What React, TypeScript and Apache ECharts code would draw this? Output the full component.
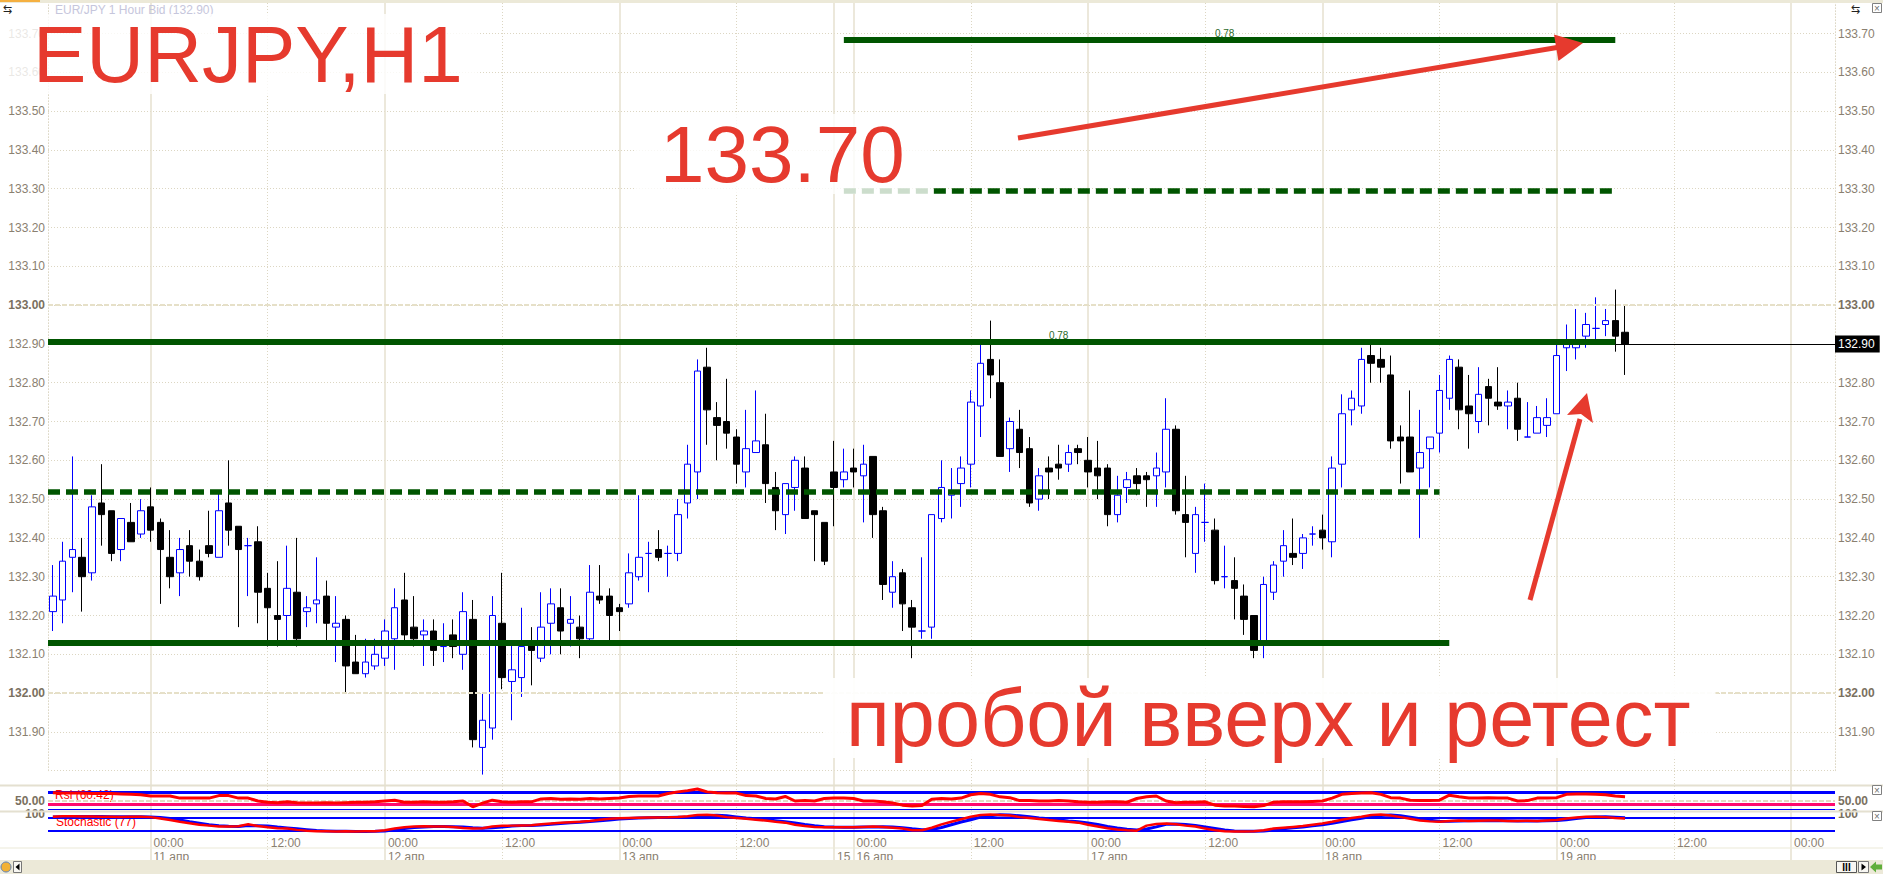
import React, { useEffect, useRef } from "react";
import * as echarts from "echarts";

const FONT = "'Liberation Sans', Arial, sans-serif";
const RED = "#e63a2e";
const GREEN = "#005500";
const AXIS_TXT = "#8a8070";
const BEIGE = "#ece9d8";

// hourly slots: 10 апр 14:00 → 13 апр 21:00, then 15 апр 22:00 → 20 апр 04:00
const sessions = [
  { day: 10, startHour: 14, count: 80 },
  { day: 15, startHour: 22, count: 103 },
];
const lastDataDay = 19;

const opens = [
  132.21,132.24,132.35,132.35,132.31,132.49,132.47,132.37,132.44,132.41,
  132.48,132.44,132.35,132.31,132.38,132.34,132.38,132.35,132.49,132.43,
  132.38,132.39,132.27,132.20,132.20,132.26,132.21,132.23,132.25,132.17,
  132.19,132.08,132.05,132.07,132.09,132.14,132.24,132.17,132.15,132.16,
  132.12,132.15,132.10,132.19,131.86,131.91,132.18,132.03,132.04,132.13,
  132.09,132.18,132.22,132.18,132.17,132.14,132.25,132.25,132.22,132.23,
  132.30,132.36,132.37,132.36,132.36,132.49,132.57,132.84,132.71,132.70,
  132.66,132.57,132.62,132.64,132.53,132.46,132.53,132.58,132.47,132.44,
  132.57,132.55,132.58,132.56,132.61,132.47,132.26,132.31,132.22,132.16,
  132.17,132.45,132.51,132.54,132.59,132.74,132.86,132.80,132.63,132.68,
  132.63,132.50,132.58,132.59,132.59,132.63,132.60,132.58,132.58,132.46,
  132.53,132.56,132.56,132.56,132.57,132.68,132.46,132.36,132.44,132.42,
  132.30,132.29,132.25,132.20,132.13,132.26,132.34,132.36,132.36,132.41,
  132.42,132.39,132.59,132.73,132.74,132.87,132.86,132.82,132.66,132.66,
  132.58,132.63,132.67,132.76,132.84,132.74,132.70,132.79,132.75,132.74,
  132.76,132.66,132.67,132.69,132.72,132.89,132.89,132.92,132.94,132.95,
  132.96,132.93,
];
const closes = [
  132.25,132.34,132.37,132.30,132.48,132.46,132.36,132.45,132.39,132.47,
  132.42,132.37,132.30,132.37,132.34,132.30,132.36,132.47,132.42,132.37,
  132.38,132.26,132.22,132.19,132.27,132.14,132.22,132.24,132.18,132.18,
  132.07,132.05,132.08,132.10,132.16,132.22,132.15,132.14,132.16,132.11,
  132.12,132.12,132.21,131.88,131.93,132.20,132.04,132.06,132.12,132.11,
  132.17,132.23,132.16,132.19,132.14,132.26,132.24,132.20,132.21,132.31,
  132.35,132.36,132.35,132.36,132.46,132.59,132.83,132.73,132.69,132.67,
  132.59,132.63,132.65,132.54,132.47,132.54,132.60,132.45,132.46,132.34,
  132.53,132.57,132.57,132.59,132.46,132.28,132.30,132.23,132.17,132.16,
  132.46,132.53,132.52,132.58,132.75,132.85,132.82,132.61,132.70,132.62,
  132.49,132.56,132.57,132.58,132.62,132.62,132.57,132.56,132.46,132.51,
  132.55,132.54,132.55,132.58,132.68,132.47,132.44,132.46,132.44,132.29,
  132.30,132.27,132.19,132.11,132.28,132.33,132.38,132.35,132.40,132.41,
  132.40,132.58,132.72,132.76,132.86,132.85,132.84,132.65,132.65,132.57,
  132.62,132.66,132.78,132.86,132.73,132.72,132.77,132.76,132.74,132.75,
  132.68,132.66,132.71,132.71,132.87,132.90,132.90,132.95,132.94,132.96,
  132.92,132.90,
];
const lows = [
  132.16,132.18,132.26,132.21,132.29,132.38,132.34,132.34,132.39,132.40,
  132.39,132.23,132.27,132.25,132.30,132.29,132.35,132.35,132.38,132.17,
  132.25,132.18,132.12,132.12,132.13,132.12,132.17,132.18,132.13,132.08,
  132.00,132.05,132.04,132.06,132.07,132.06,132.13,132.12,132.07,132.07,
  132.08,132.09,132.06,131.86,131.79,131.88,132.01,131.93,131.99,132.02,
  132.08,132.10,132.10,132.12,132.09,132.13,132.23,132.13,132.16,132.22,
  132.29,132.26,132.34,132.30,132.34,132.45,132.50,132.64,132.60,132.63,
  132.54,132.53,132.62,132.49,132.42,132.41,132.47,132.45,132.34,132.33,
  132.43,132.53,132.53,132.44,132.40,132.24,132.22,132.16,132.09,132.14,
  132.14,132.44,132.45,132.48,132.53,132.66,132.76,132.61,132.57,132.58,
  132.48,132.47,132.50,132.55,132.57,132.59,132.53,132.50,132.43,132.44,
  132.49,132.51,132.48,132.48,132.53,132.46,132.35,132.31,132.39,132.28,
  132.27,132.19,132.15,132.09,132.09,132.24,132.30,132.33,132.32,132.38,
  132.37,132.35,132.53,132.69,132.72,132.80,132.80,132.63,132.54,132.57,
  132.40,132.53,132.62,132.73,132.68,132.63,132.67,132.69,132.73,132.68,
  132.65,132.66,132.67,132.66,132.72,132.83,132.86,132.89,132.91,132.92,
  132.88,132.82,
];
const highs = [
  132.33,132.39,132.61,132.40,132.51,132.59,132.47,132.45,132.49,132.50,
  132.53,132.45,132.42,132.40,132.42,132.37,132.47,132.52,132.60,132.43,
  132.40,132.43,132.31,132.34,132.38,132.40,132.25,132.35,132.29,132.25,
  132.20,132.15,132.14,132.14,132.19,132.27,132.31,132.25,132.19,132.19,
  132.18,132.19,132.26,132.24,132.00,132.25,132.31,132.13,132.22,132.17,
  132.26,132.27,132.27,132.25,132.20,132.33,132.33,132.27,132.23,132.36,
  132.51,132.39,132.42,132.38,132.50,132.64,132.86,132.89,132.75,132.81,
  132.68,132.73,132.78,132.72,132.57,132.54,132.61,132.61,132.47,132.44,
  132.65,132.63,132.63,132.64,132.61,132.48,132.34,132.32,132.24,132.35,
  132.46,132.60,132.58,132.61,132.78,132.90,132.96,132.86,132.71,132.73,
  132.66,132.58,132.61,132.64,132.64,132.64,132.66,132.65,132.59,132.56,
  132.57,132.58,132.57,132.62,132.76,132.69,132.56,132.48,132.54,132.45,
  132.38,132.35,132.28,132.20,132.30,132.34,132.42,132.45,132.41,132.43,
  132.46,132.61,132.77,132.78,132.89,132.90,132.89,132.87,132.69,132.78,
  132.73,132.66,132.82,132.87,132.86,132.82,132.84,132.81,132.84,132.78,
  132.80,132.75,132.74,132.76,132.90,132.95,132.99,132.98,133.02,132.99,
  133.04,133.00,
];

const rsi = [
  70,69,69,69,68,68,68,67,66,65,
  62,62,62,57,57,57,57,63,63,57,
  57,50,47,46,48,46,45,45,46,45,
  46,47,47,48,50,52,47,47,48,47,
  47,48,50,36,45,52,48,47,48,48,
  55,56,54,55,54,56,55,56,57,61,
  62,62,62,68,72,75,79,72,70,69,
  69,63,62,56,55,61,50,51,50,56,
  57,57,56,50,50,48,45,40,38,39,
  54,56,55,57,65,68,66,60,58,51,
  51,50,50,51,50,48,47,47,48,48,
  47,56,60,62,50,46,47,47,48,40,
  38,38,37,36,39,47,48,48,48,49,
  50,57,66,68,69,70,66,58,57,52,
  51,51,52,64,60,57,57,58,57,57,
  50,51,57,57,58,66,67,67,66,65,
  62,60.42,
];
const stochK = [
  86,88,88,87,87,86,86,85,86,86,
  84,78,70,62,55,48,44,40,40,41,
  50,42,36,32,30,24,20,18,18,16,
  17,16,17,18,22,30,36,40,41,40,
  40,38,33,30,32,40,43,44,45,46,
  50,54,58,60,62,66,72,76,79,80,
  81,82,82,83,85,88,94,95,92,84,
  80,76,72,68,62,58,48,42,38,36,
  36,36,36,38,40,38,34,30,22,22,
  34,50,62,74,86,94,96,94,92,84,
  80,75,70,66,62,58,48,40,32,26,
  22,20,44,52,54,50,44,40,30,22,
  18,16,16,18,22,30,34,38,42,48,
  54,62,72,80,86,94,96,92,84,76,
  68,64,62,66,68,66,67,68,68,66,
  66,67,66,68,70,78,82,86,86,84,
  80,77,
];
const stochD = [
  85,86,87,87,87,87,86,86,86,86,
  85,82,77,70,62,55,48,44,41,40,
  44,44,42,37,33,29,25,21,19,17,
  17,16,16,17,19,24,30,35,38,40,
  40,39,37,34,32,34,38,42,44,45,
  47,50,54,57,60,63,67,71,75,78,
  80,81,82,82,84,85,89,92,93,90,
  85,80,76,72,67,62,56,49,43,39,
  37,36,36,37,38,39,37,34,29,25,
  26,35,48,61,72,84,91,95,94,90,
  86,80,76,71,66,62,56,49,40,33,
  27,23,28,38,50,52,49,45,38,31,
  23,19,17,17,19,23,29,34,38,43,
  48,55,63,71,79,87,92,94,90,84,
  76,69,65,64,66,67,67,67,68,67,
  66,66,66,67,68,72,77,82,85,86,
  84,81,
];

// horizontal levels drawn on the chart
const levels = [
  { price: 133.683, from: 81, to: 160, dashed: false, fromEdge: false },
  { price: 133.294, from: 81, to: 160, dashed: true, fromEdge: false },
  { price: 132.905, from: 0, to: 160, dashed: false, fromEdge: true },
  { price: 132.519, from: 0, to: 142, dashed: true, fromEdge: true },
  { price: 132.131, from: 0, to: 143, dashed: false, fromEdge: true },
];
const levelTags = [
  { text: "0.78", index: 120, price: 133.683 },
  { text: "0.78", index: 103, price: 132.905 },
];
const lastPrice = 132.9;
const rsiLevels = { high: 70, mid: 50, low: 30, signal: 43 };
const stochLevels = { high: 80, low: 20 };

function buildOption() {
  const slots: { day: number; hour: number; first: boolean }[] = [];
  sessions.forEach((s) => {
    for (let k = 0; k < s.count; k++) {
      const h = s.startHour + k;
      slots.push({ day: s.day + Math.floor(h / 24), hour: h % 24, first: k === 0 });
    }
  });
  const categories = slots.map(
    (s) => `${s.day} апр ${String(s.hour).padStart(2, "0")}:00`
  );
  const isSolid = (i: number) => slots[i].hour === 0 || (slots[i].first && i > 0);
  const isDotted = (i: number) => slots[i].hour === 12;
  const timeLabel = (i: number) => {
    const s = slots[i];
    if (s.first && i > 0) return " \n" + s.day;
    if (s.hour === 0) return "00:00\n" + (s.day <= lastDataDay ? s.day + " апр" : "");
    if (s.hour === 12) return "12:00";
    return "";
  };

  const candles = opens.map((o, i) => [o, closes[i], lows[i], highs[i]]);

  const W = 1883;
  const H = 874;
  const mainMin = 131.8;
  const mainMax = 133.7 + 33.5 / 388;
  const mainBottomPx = 33.5 + (133.7 - mainMin) * 388;

  const hiddenX = (gridIndex: number, extra: any = {}) => ({
    type: "category",
    gridIndex,
    data: categories,
    axisLine: { show: false },
    axisTick: { show: false },
    axisLabel: { show: false },
    splitLine: { show: false },
    ...extra,
  });

  const isNear = (v: number, t: number) => Math.abs(v - t) < 1e-6;
  const priceLabel = (v: number) => {
    const s = v.toFixed(2);
    return isNear(v, 133) || isNear(v, 132) ? `{b|${s}}` : s;
  };
  const axisTxt = {
    color: AXIS_TXT,
    fontSize: 12,
    fontFamily: FONT,
    rich: { b: { fontWeight: "bold", color: "#7a7060", fontSize: 12, fontFamily: FONT } },
  };

  const mainY = (position: "left" | "right", split: boolean) => ({
    type: "value",
    gridIndex: 0,
    position,
    min: mainMin,
    max: mainMax,
    interval: 0.1,
    axisLine: { show: true, lineStyle: { color: "#ddd8c6", type: [1, 2], width: 1 } },
    axisTick: { show: false },
    axisLabel: { ...axisTxt, margin: 3, showMinLabel: false, showMaxLabel: false, formatter: priceLabel },
    splitLine: { show: split, lineStyle: { color: "#dcd6c2", type: [1, 2], width: 1 } },
  });
  const rsiY = (position: "left" | "right") => ({
    type: "value",
    gridIndex: 1,
    position,
    min: 28,
    max: 86,
    interval: 2,
    axisLine: { show: false },
    axisTick: { show: false },
    splitLine: { show: false },
    axisLabel: {
      ...axisTxt,
      margin: 3,
      formatter: (v: number) => (isNear(v, 50) ? "{b|50.00}" : ""),
    },
  });
  const stochY = (position: "left" | "right") => ({
    type: "value",
    gridIndex: 2,
    position,
    min: -10,
    max: 110,
    interval: 10,
    axisLine: { show: false },
    axisTick: { show: false },
    splitLine: { show: false },
    axisLabel: { ...axisTxt, margin: 3, formatter: (v: number) => (isNear(v, 100) ? "{b|100}" : "") },
  });

  const greenLines = levels.map((l) => [
    {
      coord: [l.from, l.price],
      ...(l.fromEdge ? { x: 48 } : {}),
      lineStyle: {
        color: GREEN,
        width: l.dashed ? 5.5 : 6,
        type: l.dashed ? [12, 6] : "solid",
      },
      label: { show: false },
    },
    { coord: [l.to, l.price] },
  ]);

  const graphics: any[] = [
    // indicator captions (below indicator lines)
    { type: "text", z: 1, style: { text: "Rsi (60.42)", x: 55, y: 795, fill: "#ff0000", font: `12px ${FONT}`, verticalAlign: "middle" } },
    { type: "text", z: 1, style: { text: "Stochastic (77)", x: 56, y: 822, fill: "#ff0000", font: `12px ${FONT}`, verticalAlign: "middle" } },
    // title
    { type: "text", z: 50, style: { text: "EUR/JPY 1 Hour Bid (132.90)", x: 55, y: 10, fill: "#c6c6dc", font: `12px ${FONT}`, verticalAlign: "middle" } },
    // annotations
    {
      type: "text", z: 60,
      style: { text: "EURJPY,H1", x: 0, y: 54, fill: RED, font: `80px ${FONT}`, verticalAlign: "middle", lineHeight: 80, backgroundColor: "rgba(255,255,255,0.82)", padding: [0, 15, 0, 33] },
    },
    {
      type: "text", z: 60,
      style: { text: "133.70", x: 635, y: 154, fill: RED, font: `80px ${FONT}`, verticalAlign: "middle", lineHeight: 80, backgroundColor: "rgba(255,255,255,0.8)", padding: [0, 26, 0, 25] },
    },
    {
      type: "text", z: 60,
      style: { text: "пробой вверх и ретест", x: 824, y: 718, fill: RED, font: `81px ${FONT}`, verticalAlign: "middle", lineHeight: 80, backgroundColor: "rgba(255,255,255,0.92)", padding: [0, 25, 0, 22] },
    },
    // arrows
    { type: "line", z: 70, shape: { x1: 1018, y1: 138, x2: 1557, y2: 47.5 }, style: { stroke: RED, lineWidth: 5 } },
    { type: "polygon", z: 70, shape: { points: [[1583, 43], [1558.4, 61], [1554, 34.4]] }, style: { fill: RED } },
    { type: "line", z: 70, shape: { x1: 1530, y1: 600, x2: 1580, y2: 419 }, style: { stroke: RED, lineWidth: 5 } },
    { type: "polygon", z: 70, shape: { points: [[1587, 393], [1593, 423], [1581, 414], [1567, 415]] }, style: { fill: RED } },
    // window chrome
    { type: "rect", z: 90, shape: { x: 0, y: 0, width: W, height: 3 }, style: { fill: BEIGE } },
    { type: "rect", z: 91, shape: { x: 0, y: 0, width: 40, height: 2 }, style: { fill: "#f5b041" } },
    { type: "rect", z: 90, shape: { x: 0, y: 784.5, width: W, height: 2 }, style: { fill: "#e4e0d0" } },
    { type: "rect", z: 90, shape: { x: 0, y: 810.5, width: W, height: 2 }, style: { fill: "#e4e0d0" } },
    { type: "rect", z: 90, shape: { x: 0, y: 847.5, width: W, height: 1 }, style: { fill: BEIGE } },
    { type: "rect", z: 90, shape: { x: 0, y: 860, width: W, height: 14 }, style: { fill: BEIGE } },
    // top-left / top-right icons
    { type: "text", z: 92, style: { text: "⇆", x: 3, y: 9, fill: "#222", font: `11px ${FONT}`, verticalAlign: "middle" } },
    { type: "text", z: 92, style: { text: "⇆", x: 1851, y: 9, fill: "#222", font: `11px ${FONT}`, verticalAlign: "middle" } },
    // close boxes
    ...[6, 788, 814].map((y) => ({
      type: "group", z: 92,
      children: [
        { type: "rect", z: 92, shape: { x: 1872.5, y: y - 2.5, width: 9, height: 9 }, style: { fill: "#fff", stroke: "#808080", lineWidth: 1 } },
        { type: "text", z: 93, style: { text: "×", x: 1877, y: y + 2, fill: "#707070", font: `10px ${FONT}`, align: "center", verticalAlign: "middle" } },
      ],
    })),
    // bottom bar controls
    { type: "circle", z: 92, shape: { cx: 6, cy: 867, r: 5 }, style: { fill: "#f2b134", stroke: "#5a7fb8", lineWidth: 1 } },
    { type: "rect", z: 92, shape: { x: 13.5, y: 861.5, width: 8, height: 11 }, style: { fill: "#f8f7f2", stroke: "#777", lineWidth: 1 } },
    { type: "polygon", z: 93, shape: { points: [[19.5, 863.5], [19.5, 870.5], [15.5, 867]] }, style: { fill: "#000" } },
    { type: "rect", z: 92, shape: { x: 1836.5, y: 861.5, width: 20, height: 11 }, style: { fill: "#f8f7f2", stroke: "#555", lineWidth: 1 } },
    { type: "text", z: 93, style: { text: "III", x: 1846.5, y: 867, fill: "#000", font: `bold 10px ${FONT}`, align: "center", verticalAlign: "middle" } },
    { type: "rect", z: 92, shape: { x: 1858.5, y: 861.5, width: 10, height: 11 }, style: { fill: "#f8f7f2", stroke: "#777", lineWidth: 1 } },
    { type: "polygon", z: 93, shape: { points: [[1861.5, 863.5], [1861.5, 870.5], [1866, 867]] }, style: { fill: "#000" } },
    { type: "polygon", z: 92, shape: { points: [[1870, 867], [1876, 861.5], [1876, 864.5], [1882, 864.5], [1882, 869.5], [1876, 869.5], [1876, 872.5]] }, style: { fill: "#5fae3a" } },
  ];

  return {
    animation: false,
    backgroundColor: "#ffffff",
    textStyle: { fontFamily: FONT },
    grid: [
      { left: 48, right: W - 1835, top: 0, bottom: H - mainBottomPx, outerBoundsMode: "none" },
      { left: 48, right: W - 1835, top: 786.06, height: 24.07, outerBoundsMode: "none" },
      { left: 48, right: W - 1835, top: 811.6, height: 25.5, outerBoundsMode: "none" },
      { left: 52.88, right: 52.88, top: 0, bottom: 14, outerBoundsMode: "none" },
      { left: 52.88, right: 52.88, top: 0, bottom: 38, outerBoundsMode: "none" },
    ],
    xAxis: [
      hiddenX(0),
      hiddenX(1),
      hiddenX(2),
      hiddenX(3, {
        boundaryGap: false,
        splitLine: { show: true, interval: (i: number) => isSolid(i), lineStyle: { color: "#e6e1cf", width: 1.5 } },
      }),
      hiddenX(3, {
        boundaryGap: false,
        position: "top",
        splitLine: { show: true, interval: (i: number) => isDotted(i), lineStyle: { color: "#dcd6c2", width: 1, type: [1, 2] } },
      }),
      hiddenX(4, {
        boundaryGap: false,
        axisLabel: {
          show: true,
          interval: (i: number) => isSolid(i) || isDotted(i),
          formatter: (_v: string, i: number) => timeLabel(i),
          align: "left",
          verticalAlign: "top",
          padding: [0, 0, 0, 3],
          margin: 0,
          lineHeight: 14,
          color: AXIS_TXT,
          fontSize: 12,
          fontFamily: FONT,
        },
      }),
    ],
    yAxis: [
      mainY("left", true),
      mainY("right", false),
      rsiY("left"),
      rsiY("right"),
      stochY("left"),
      stochY("right"),
      { type: "value", gridIndex: 3, min: 0, max: 1, show: false },
      { type: "value", gridIndex: 4, min: 0, max: 1, show: false },
    ],
    series: [
      {
        type: "candlestick",
        xAxisIndex: 0,
        yAxisIndex: 0,
        data: candles,
        barWidth: 7,
        clip: false,
        itemStyle: {
          color: "#ffffff",
          color0: "#000000",
          borderColor: "#0000ff",
          borderColor0: "#000000",
          borderColorDoji: "#0000ff",
          borderWidth: 1,
        },
        markLine: {
          silent: true,
          symbol: ["none", "none"],
          animation: false,
          label: { show: false },
          data: [
            { yAxis: 133, lineStyle: { color: "#e6e0c8", width: 2, type: [5, 2] } },
            { yAxis: 132, lineStyle: { color: "#e6e0c8", width: 2, type: [5, 2] } },
            {
              yAxis: lastPrice,
              lineStyle: { color: "#000000", width: 1, type: "solid" },
              label: {
                show: true,
                position: "end",
                distance: 0,
                formatter: lastPrice.toFixed(2),
                color: "#ffffff",
                backgroundColor: "#000000",
                padding: [3, 5, 2, 3],
                fontSize: 12,
                fontFamily: FONT,
              },
            },
            ...greenLines,
          ],
        },
        markPoint: {
          silent: true,
          animation: false,
          symbol: "rect",
          symbolSize: 0.5,
          itemStyle: { color: "rgba(0,0,0,0)" },
          label: { show: true, position: "top", distance: 1, color: "#2d6b2d", fontSize: 10, fontFamily: FONT },
          data: levelTags.map((t) => ({ coord: [t.index, t.price], label: { formatter: t.text } })),
        },
      },
      {
        type: "line",
        xAxisIndex: 1,
        yAxisIndex: 2,
        data: rsi,
        symbol: "none",
        z: 10,
        lineStyle: { color: "#ff0000", width: 3 },
        markLine: {
          silent: true,
          symbol: ["none", "none"],
          animation: false,
          label: { show: false },
          data: [
            { yAxis: rsiLevels.mid, lineStyle: { color: "#e3dcc4", width: 2, type: [5, 2] } },
            { yAxis: rsiLevels.high, lineStyle: { color: "#0000ff", width: 3, type: "solid" } },
            { yAxis: rsiLevels.low, lineStyle: { color: "#0000ff", width: 1, type: "solid" } },
            { yAxis: rsiLevels.signal, lineStyle: { color: "#ff0a6e", width: 3, type: "solid" } },
          ],
        },
      },
      {
        type: "line",
        xAxisIndex: 2,
        yAxisIndex: 4,
        data: stochD,
        symbol: "none",
        z: 10,
        lineStyle: { color: "#0000ff", width: 3 },
        markLine: {
          silent: true,
          symbol: ["none", "none"],
          animation: false,
          label: { show: false },
          data: [
            { yAxis: stochLevels.high, lineStyle: { color: "#0000ff", width: 2, type: "solid" } },
            { yAxis: stochLevels.low, lineStyle: { color: "#0000ff", width: 2, type: "solid" } },
          ],
        },
      },
      {
        type: "line",
        xAxisIndex: 2,
        yAxisIndex: 4,
        data: stochK,
        symbol: "none",
        z: 11,
        lineStyle: { color: "#ff0000", width: 2.5 },
      },
    ],
    graphic: { elements: graphics },
  };
}

export default function App() {
  const ref = useRef<HTMLDivElement>(null);
  useEffect(() => {
    if (!ref.current) return;
    const chart = echarts.init(ref.current, undefined, { renderer: "svg" });
    chart.setOption(buildOption() as any);
    return () => chart.dispose();
  }, []);
  return (
    <div
      ref={ref}
      style={{ position: "fixed", left: 0, top: 0, width: 1883, height: 874, background: "#ffffff" }}
    />
  );
}
